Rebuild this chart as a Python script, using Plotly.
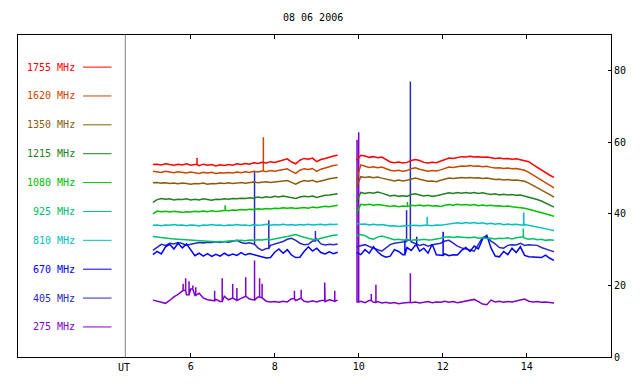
import plotly.graph_objects as go

# ---------------- data ----------------
FREQS = ["1755", "1620", "1350", "1215", "1080", "925", "810", "670", "405", "275"]
COLORS = ["#ff0000", "#c84800", "#8c5c0c", "#228022", "#00c000",
          "#00c06a", "#00c0c0", "#0000ff", "#2a2ac0", "#7f00c8"]

SEG1_START, SEG2_START, STEP = 5.1, 9.95, 0.1

S1 = {
    "1755": [53.8, 53.9, 53.7, 54.0, 53.8, 53.6, 53.9, 53.7, 54.0, 53.6,
             53.8, 53.5, 53.9, 53.6, 53.8, 53.4, 53.7, 53.5, 53.8, 53.6,
             54.0, 53.8, 54.1, 53.9, 54.3, 54.1, 54.4, 54.2, 54.6, 54.4,
             54.7, 55.2, 55.4, 54.5, 54.0, 55.0, 55.5, 55.3, 55.6, 54.6,
             55.2, 55.5, 55.9, 56.2, 56.4],
    "1620": [51.9, 51.8, 51.6, 51.9, 51.7, 51.5, 51.8, 51.6, 51.4, 51.7,
             51.5, 51.3, 51.6, 51.4, 51.6, 51.3, 51.5, 51.4, 51.6, 51.4,
             51.7, 51.5, 51.8, 51.6, 51.9, 51.7, 52.0, 51.8, 52.1, 51.9,
             52.1, 52.4, 52.6, 51.9, 51.3, 52.2, 52.6, 52.4, 52.7, 51.9,
             52.5, 52.8, 53.2, 53.5, 53.7],
    "1350": [48.7, 48.8, 48.6, 48.7, 48.5, 48.6, 48.4, 48.6, 48.5, 48.3,
             48.5, 48.4, 48.6, 48.3, 48.5, 48.4, 48.6, 48.5, 48.7, 48.5,
             48.6, 48.8, 48.6, 48.7, 48.9, 48.7, 48.8, 49.0, 48.8, 48.9,
             49.1, 49.2, 49.3, 48.8, 48.3, 48.9, 49.3, 49.1, 49.4, 48.9,
             49.3, 49.5, 49.8, 50.0, 50.2],
    "1215": [43.2, 44.0, 44.3, 44.1, 44.2, 43.9, 44.1, 44.0, 44.2, 43.9,
             44.1, 43.9, 44.2, 44.0, 43.8, 44.1, 44.0, 44.2, 44.1, 44.3,
             44.2, 44.4, 44.3, 44.5, 44.4, 44.7, 44.5, 44.8, 44.6, 44.9,
             44.7, 45.0, 44.8, 44.6, 44.3, 44.7, 44.9, 44.8, 45.0, 44.6,
             45.0, 45.2, 45.3, 45.5, 45.6],
    "1080": [40.0, 40.8, 40.6, 40.7, 40.5, 40.7, 40.6, 40.4, 40.6, 40.5,
             40.7, 40.6, 40.8, 40.6, 40.9, 40.7, 40.8, 41.0, 40.9, 41.1,
             41.0, 41.2, 41.1, 41.3, 41.2, 41.4, 41.3, 41.5, 41.4, 41.6,
             41.5, 41.7, 41.6, 41.7, 41.5, 41.7, 41.8, 41.6, 41.9, 41.7,
             41.9, 42.1, 42.0, 42.3, 42.4],
    "925":  [33.7, 33.5, 33.3, 33.2, 33.1, 33.0, 32.9, 33.0, 32.8, 32.7,
             32.6, 32.5, 32.4, 32.3, 32.3, 32.2, 32.3, 32.2, 32.4, 32.5,
             32.4, 32.6, 32.5, 32.7, 32.6, 32.8, 32.7, 32.9, 32.8, 33.1,
             33.3, 33.5, 33.7, 34.0, 34.2, 33.8, 33.4, 33.1, 32.9, 32.8,
             33.2, 33.5, 33.8, 34.0, 34.1],
    "810":  [36.8, 36.9, 36.7, 36.9, 36.8, 37.0, 36.8, 36.9, 36.7, 36.9,
             36.8, 36.6, 36.9, 36.8, 37.0, 36.8, 36.9, 36.7, 36.9, 36.8,
             37.0, 36.8, 36.9, 36.7, 37.0, 36.8, 36.9, 37.1, 36.8, 37.0,
             36.9, 37.1, 36.9, 37.0, 36.8, 37.0, 36.9, 37.1, 36.9, 37.0,
             37.1, 36.9, 37.1, 37.0, 37.1],
    "670":  [28.6, 29.5, 28.8, 30.8, 31.5, 30.2, 31.8, 30.5, 31.6, 30.0,
             28.3, 29.0, 28.2, 28.9, 28.1, 28.7, 28.2, 29.0, 28.3, 28.8,
             28.4, 29.2, 28.5, 28.9, 28.6, 28.4, 28.0, 27.7, 27.8, 29.3,
             30.2, 29.0, 30.0, 28.5, 27.8, 27.9, 29.5, 30.8, 29.6, 30.4,
             29.2, 28.8, 29.4, 28.9, 29.3],
    "405":  [29.8, 30.6, 31.5, 31.2, 31.8, 31.6, 32.0, 31.7, 31.2, 31.5,
             31.8, 32.0, 31.9, 32.1, 32.0, 32.2, 32.0, 32.3, 32.1, 32.4,
             32.6, 32.0, 31.7, 31.9, 31.5, 30.5, 29.8, 30.3, 31.2, 31.6,
             31.8, 32.3, 32.9, 33.2, 32.6, 31.8, 31.4, 31.5, 32.4, 33.0,
             31.6, 31.3, 31.5, 31.4, 31.6],
    "275":  [15.9, 15.6, 15.1, 15.0, 15.8, 16.8, 17.5, 18.6, 17.4, 19.0,
             17.2, 17.8, 16.5, 16.0, 15.7, 16.1, 15.5, 17.0, 16.0, 16.5,
             15.8, 16.4, 17.0, 16.2, 15.9, 16.8, 16.5, 15.6, 15.4, 15.5,
             15.3, 15.6, 15.4, 16.3, 15.8, 16.4, 15.6, 15.4, 15.7, 15.4,
             15.8, 15.5, 16.0, 15.6, 15.9],
}

S2 = {
    "1755": [55.0, 56.4, 56.2, 55.8, 56.0, 55.7, 55.9, 55.2, 54.5, 54.3,
             54.5, 54.2, 54.4, 54.9, 55.2, 54.9, 54.4, 54.2, 54.4, 54.3,
             54.7, 55.3, 55.6, 55.5, 55.8, 56.0, 55.9, 56.1, 55.9, 56.0,
             55.8, 55.9, 55.7, 55.5, 55.6, 55.4, 55.5, 55.3, 55.4, 55.2,
             55.0, 54.6, 53.8, 53.0, 52.3, 51.5, 50.8, 50.2],
    "1620": [49.5, 53.7, 53.3, 53.0, 53.2, 52.9, 53.1, 52.6, 52.2, 52.0,
             52.2, 51.9, 52.1, 52.6, 52.9, 52.5, 52.1, 51.9, 52.1, 52.0,
             52.3, 52.8, 53.1, 53.0, 53.3, 53.4, 53.3, 53.5, 53.3, 53.4,
             53.2, 53.3, 53.0, 52.8, 52.9, 52.7, 52.8, 52.6, 52.7, 52.5,
             52.2, 51.6, 50.9, 50.2, 49.5, 48.7, 48.0, 47.3],
    "1350": [47.5, 50.4, 50.2, 50.4, 50.1, 50.3, 50.0, 49.8, 49.4, 49.2,
             49.5, 49.2, 49.4, 49.8, 50.0, 49.7, 49.3, 49.1, 49.2, 49.0,
             49.4, 49.8, 50.0, 49.9, 50.1, 50.2, 50.0, 50.2, 50.0, 50.1,
             49.9, 50.0, 49.8, 49.6, 49.7, 49.5, 49.6, 49.4, 49.5, 49.3,
             49.1, 48.6, 48.0, 47.4, 46.8, 46.0, 45.4, 44.7],
    "1215": [43.5, 46.0, 45.7, 46.0, 45.8, 46.1, 45.8, 45.4, 45.0, 45.2,
             44.9, 45.1, 44.9, 45.4, 45.6, 45.3, 45.0, 45.2, 44.9, 45.1,
             45.4, 45.7, 45.9, 45.7, 46.0, 45.8, 46.0, 45.8, 46.0, 45.7,
             45.9, 45.6, 45.4, 45.6, 45.3, 45.5, 45.3, 45.4, 45.2, 45.3,
             45.0, 44.8, 44.5, 44.0, 43.6, 43.0, 42.4, 41.9],
    "1080": [40.2, 42.7, 42.5, 42.7, 42.4, 42.6, 42.5, 42.3, 42.1, 42.3,
             42.0, 42.2, 42.1, 42.4, 42.3, 42.5, 42.2, 42.4, 42.2, 42.3,
             42.1, 42.4, 42.6, 42.4, 42.7, 42.5, 42.6, 42.4, 42.6, 42.3,
             42.5, 42.3, 42.4, 42.2, 42.3, 42.1, 42.2, 42.0, 41.9, 41.8,
             41.6, 41.3, 41.0, 40.8, 40.5, 40.1, 39.7, 39.3],
    "925":  [33.8, 34.2, 33.9, 33.2, 32.9, 33.5, 33.8, 33.5, 33.0, 32.8,
             32.9, 32.7, 32.8, 32.6, 32.8, 32.7, 32.9, 32.7, 32.8, 32.9,
             33.2, 33.5, 33.6, 33.4, 33.6, 33.5, 33.4, 33.3, 33.5, 33.2,
             33.3, 33.1, 33.2, 33.0, 33.2, 33.1, 33.3, 33.0, 33.3, 33.6,
             33.2, 32.9, 33.1, 32.8, 32.9, 32.6, 32.8, 32.6],
    "810":  [37.3, 37.1, 37.2, 36.9, 37.1, 36.9, 37.0, 36.8, 36.6, 36.7,
             36.5, 36.6, 36.7, 36.6, 36.8, 36.7, 36.9, 36.8, 36.7, 36.9,
             36.8, 37.0, 37.2, 37.4, 37.5, 37.3, 37.6, 37.4, 37.6, 37.3,
             37.5, 37.2, 37.4, 37.1, 37.3, 37.0, 37.2, 37.0, 37.1, 36.9,
             37.0, 36.8, 36.6, 36.4, 36.2, 35.9, 35.6, 35.3],
    "670":  [29.2, 28.6, 30.0, 29.0, 30.8, 29.4, 28.4, 27.9, 28.2, 30.0,
             29.5, 28.6, 30.6, 29.8, 31.2, 29.6, 30.4, 29.0, 31.5, 28.6,
             28.4, 28.8, 28.3, 28.6, 28.5, 29.8, 30.6, 29.5, 31.0, 30.2,
             33.0, 34.0, 30.5, 28.2, 28.0, 29.5, 28.6, 30.4, 29.2, 30.8,
             28.4, 28.0, 27.9, 28.0, 27.8, 28.5, 27.6, 27.0],
    "405":  [30.8, 31.2, 31.4, 30.9, 30.5, 30.2, 29.6, 30.5, 31.4, 31.8,
             32.0, 32.3, 32.6, 32.2, 31.8, 31.2, 31.5, 31.0, 31.4, 31.6,
             31.8, 32.4, 32.6, 31.8, 31.0, 30.5, 30.2, 29.8, 29.6, 31.5,
             33.4, 33.6, 32.4, 31.6, 30.6, 30.4, 31.2, 31.4, 31.3, 31.8,
             31.2, 31.4, 31.3, 31.2, 30.6, 30.3, 29.8, 29.4],
    "275":  [15.4, 15.6, 15.2, 15.8, 15.3, 15.5, 15.1, 15.3, 15.0, 15.2,
             14.9, 15.1, 15.3, 15.2, 15.4, 15.1, 15.3, 15.5, 15.2, 15.4,
             15.3, 15.6, 15.3, 15.5, 15.2, 15.4, 15.6, 15.8, 16.1, 15.5,
             14.8, 14.6, 15.9, 15.4, 15.6, 15.3, 15.5, 15.4, 15.6, 15.8,
             16.2, 15.6, 15.4, 15.5, 15.3, 15.4, 15.2, 15.1],
}

# short spikes (series, UT hour, peak value)
SPIKE_FREQ = ["1755", "1620", "1080", "1080", "810", "810", "925",
              "405", "405", "405", "405", "405",
              "670", "670", "670",
              "275", "275", "275", "275", "275", "275", "275", "275", "275",
              "275", "275", "275", "275", "275", "275", "275", "275",
              "275", "275", "275", "275", "275"]
SPIKE_T = [6.15, 7.73, 6.82, 11.16, 11.63, 13.93, 13.92,
           7.52, 7.86, 8.97, 11.14, 11.23,
           11.10, 11.38, 12.01,
           5.82, 5.88, 5.96, 6.05, 6.12, 6.57, 6.75, 7.00, 7.10,
           7.31, 7.52, 7.64, 7.70, 8.47, 8.63, 9.19, 9.43,
           9.96, 10.00, 10.30, 10.41, 11.23]
SPIKE_V = [55.6, 61.4, 42.4, 43.3, 39.2, 40.4, 35.9,
           51.7, 38.2, 35.2, 41.0, 77.0,
           32.7, 33.6, 35.0,
           20.5, 22.0, 21.2, 20.0, 19.5, 18.5, 22.0, 20.4, 19.3,
           22.3, 27.0, 22.0, 20.5, 18.5, 18.8, 20.8, 18.5,
           60.7, 62.8, 17.6, 20.2, 23.4]

DATE_TITLE = "08 06 2006"
X_TICKS = [6, 8, 10, 12, 14]
Y_TICKS = [0, 20, 40, 60, 80]
UT_MARK = 4.443

# ---------------- layout constants (pixels) ----------------
W, H = 640, 384
ML, MR, MT, MB = 18, 29, 35, 25
PX_PER_H = 42.0
PX_6 = 190.7
X0 = 6 - (PX_6 - ML) / PX_PER_H
X1 = 6 + (W - MR - PX_6) / PX_PER_H
Y0, Y1 = 0, 90
PLOT_H = H - MT - MB


def px_to_x(px):
    return 6 + (px - PX_6) / PX_PER_H


def py_to_y(py):
    return Y0 + (H - MB - py) / PLOT_H * (Y1 - Y0)


FONT = "DejaVu Sans Mono"


def build_segment(vals, start, freq):
    ts = [start + STEP * i for i in range(len(vals))]
    pts = [(t, 0, v) for t, v in zip(ts, vals)]
    t_end = ts[-1]
    for f, st, sv in zip(SPIKE_FREQ, SPIKE_T, SPIKE_V):
        if f != freq or st < start - 1e-9 or st > t_end + 1e-9:
            continue
        base = vals[0]
        for t, v in zip(ts, vals):
            if t <= st + 1e-9:
                base = v
        pts += [(st, 1, base), (st, 2, sv), (st, 3, base)]
    pts.sort(key=lambda p: (p[0], p[1]))
    return [p[0] for p in pts], [p[2] for p in pts]


fig = go.Figure()

for freq, col in reversed(list(zip(FREQS, COLORS))):
    xa, ya = build_segment(S1[freq], SEG1_START, freq)
    xb, yb = build_segment(S2[freq], SEG2_START, freq)
    fig.add_trace(go.Scatter(
        x=xa + [None] + xb, y=ya + [None] + yb, mode="lines",
        line=dict(color=col, width=1.5), connectgaps=False,
        showlegend=False, hoverinfo="skip"))

shapes = [dict(type="line", xref="x", yref="y", x0=UT_MARK, x1=UT_MARK,
               y0=Y0, y1=Y1, line=dict(color="#808080", width=1))]
annotations = []

LEG_TOP_PY, LEG_STEP_PY = 67.3, 29.05
for i, (freq, col) in enumerate(zip(FREQS, COLORS)):
    yy = py_to_y(LEG_TOP_PY + i * LEG_STEP_PY)
    annotations.append(dict(x=px_to_x(76.5), y=yy, xref="x", yref="y",
                            text=f"{freq} MHz", showarrow=False,
                            xanchor="right", yanchor="middle",
                            font=dict(family=FONT, size=10, color=col)))
    shapes.append(dict(type="line", xref="x", yref="y",
                       x0=px_to_x(83), x1=px_to_x(111.5), y0=yy, y1=yy,
                       line=dict(color=col, width=1)))

annotations.append(dict(x=px_to_x(124), y=(H - MB - 370) / PLOT_H,
                        xref="x", yref="paper", text="UT", showarrow=False,
                        xanchor="center", yanchor="middle",
                        font=dict(family=FONT, size=10, color="black")))
annotations.append(dict(x=(313 - ML) / (W - ML - MR), y=(H - MB - 17) / PLOT_H,
                        xref="paper", yref="paper", text=DATE_TITLE,
                        showarrow=False, xanchor="center", yanchor="middle",
                        font=dict(family=FONT, size=10, color="black")))

fig.update_layout(
    width=W, height=H,
    margin=dict(l=ML, r=MR, t=MT, b=MB, pad=0),
    paper_bgcolor="white", plot_bgcolor="white",
    font=dict(family=FONT, size=10, color="black"),
    shapes=shapes, annotations=annotations,
    xaxis=dict(range=[X0, X1], tickvals=X_TICKS, ticks="inside", ticklen=4,
               tickcolor="black", showline=True, linecolor="black",
               linewidth=1, mirror="ticks", showgrid=False, zeroline=False,
               tickfont=dict(family=FONT, size=10, color="black")),
    yaxis=dict(range=[Y0, Y1], tickvals=Y_TICKS, side="right",
               ticks="inside", ticklen=3, tickcolor="black", showline=True,
               linecolor="black", linewidth=1, mirror=True, showgrid=False,
               zeroline=False,
               tickfont=dict(family=FONT, size=10, color="black")),
)

fig.write_html("out.html",
               config={"displayModeBar": False},
               post_script="document.body.style.margin='0';"
                           "document.body.style.padding='0';")
